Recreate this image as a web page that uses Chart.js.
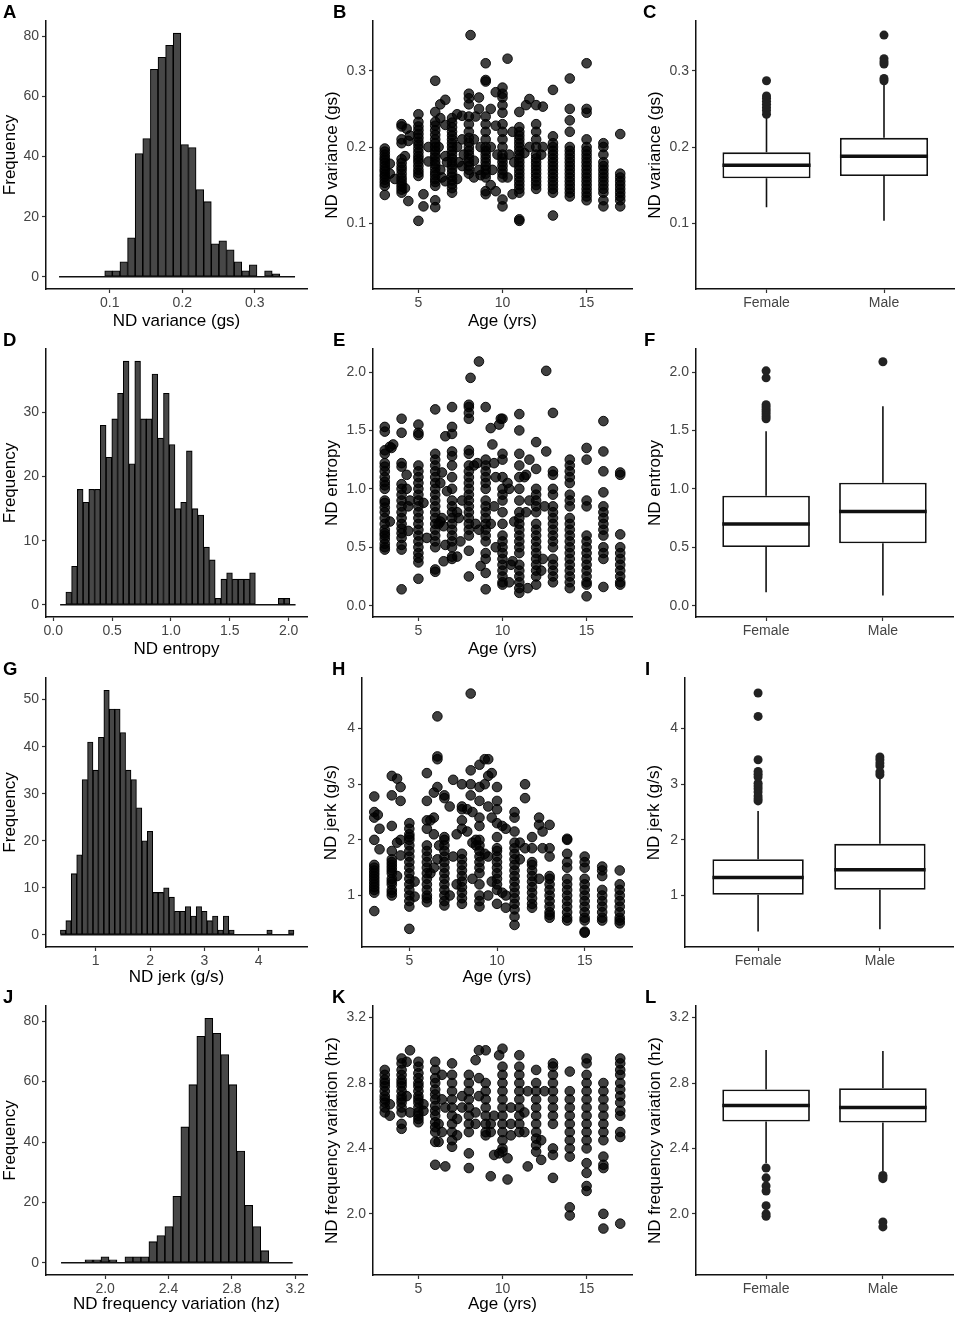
<!DOCTYPE html>
<html>
<head>
<meta charset="utf-8">
<title>ND features by age and sex</title>
<script src="https://cdn.jsdelivr.net/npm/chart.js@4.4.1/dist/chart.umd.min.js"></script>
<style>
  body { margin: 0; background: #fff; }
  #figure { position: relative; width: 959px; height: 1319px; overflow: hidden; }
  #figure canvas { position: absolute; }
  .tag { position: absolute; font: bold 18.5px/18.5px "Liberation Sans", Arial, sans-serif; color: #000; }
</style>
</head>
<body>
<div id="figure"></div>
<script>
// ---------- histogram bins (start edge, width, counts) ----------
const varBinStart = 0.030, varBinWidth = 0.0105;
const varCounts = [0, 0, 0, 0, 0, 0, 2, 2, 5, 13, 41, 46, 69, 73, 77, 81, 44, 43, 29, 25, 11, 12, 9, 5, 2, 4, 0, 2, 1, 0, 0];

const entBinStart = 0.058, entBinWidth = 0.0488;
const entCounts = [0, 2, 6, 18, 16, 18, 18, 28, 23, 29, 33, 38, 22, 38, 29, 29, 36, 26, 33, 25, 15, 16, 24, 15, 14, 9, 7, 1, 4, 5, 4, 4, 4, 5, 0, 0, 0, 0, 1, 1, 0];

const jerkBinStart = 0.35, jerkBinWidth = 0.1;
const jerkCounts = [1, 3, 13, 17, 33, 41, 35, 42, 52, 48, 48, 43, 35, 33, 27, 20, 22, 9, 9, 10, 8, 5, 5, 6, 4, 6, 5, 3, 4, 1, 4, 1, 0, 0, 0, 0, 0, 0, 1, 0, 0, 0, 1];

const freqBinStart = 1.722, freqBinWidth = 0.0504;
const freqCounts = [0, 0, 0, 1, 1, 2, 1, 0, 2, 2, 2, 7, 9, 12, 22, 45, 59, 75, 81, 76, 69, 59, 37, 19, 12, 4, 0, 0, 0];

// ---------- scatter points: [age, values at that age] ----------
const varCols = [
  [3, [.137, .149, .153, .157, .161, .164, .168, .171, .175, .179, .183, .186, .19, .194, .198]],
  [3.3, [.165, .178]], [3.6, [.158]],
  [4, [.14, .144, .148, .152, .156, .16, .165, .17, .174, .179, .184, .205, .21, .227, .23]],
  [4.2, [.188, .146]], [4.3, [.224]], [4.4, [.129, .208]], [4.5, [.215]],
  [5, [.103, .162, .166, .17, .175, .18, .184, .188, .193, .198, .203, .207, .212, .217, .222, .227, .233, .243]],
  [5.3, [.138, .122]], [5.6, [.181, .2]],
  [6, [.121, .13, .149, .154, .158, .163, .167, .172, .177, .181, .186, .19, .195, .2, .205, .21, .216, .222, .228, .233, .246, .287]],
  [6.2, [.2]], [6.3, [.256, .238, .17]], [6.4, [.16]], [6.6, [.262, .229, .188, .155]], [6.7, [.18]],
  [7, [.14, .146, .151, .156, .161, .166, .171, .176, .18, .185, .19, .195, .2, .205, .21, .215, .22, .226, .232, .238]],
  [7.3, [.243, .2, .158]], [7.4, [.18]], [7.6, [.241, .21, .175]], [7.7, [.19]],
  [8, [.165, .17, .175, .18, .185, .19, .195, .2, .206, .212, .22, .23, .24, .256, .264, .27]], [8.1, [.347]],
  [8.3, [.16, .182, .21]], [8.4, [.24]], [8.6, [.265, .25, .17]], [8.7, [.163, .2]],
  [9, [.138, .142, .16, .165, .17, .175, .18, .185, .19, .195, .2, .21, .22, .23, .24, .286, .288, .31]],
  [9.3, [.15, .25, .2]], [9.4, [.17]], [9.6, [.272, .142, .228]], [9.7, [.19]],
  [10, [.122, .131, .16, .165, .17, .175, .18, .185, .19, .2, .21, .22, .23, .245, .255, .265, .27, .278]],
  [10.3, [.316, .16]], [10.4, [.19]], [10.6, [.138, .22]], [10.7, [.18]],
  [11, [.103, .105, .14, .145, .15, .155, .16, .165, .17, .175, .18, .185, .19, .195, .2, .205, .21, .215, .22, .226, .246]],
  [11.3, [.192]], [11.4, [.255]], [11.6, [.263, .2]],
  [12, [.145, .15, .155, .16, .165, .17, .175, .18, .185, .19, .2, .21, .22, .23, .255]],
  [12.3, [.19]], [12.4, [.253, .2]],
  [13, [.11, .14, .145, .15, .155, .16, .165, .17, .175, .18, .185, .19, .195, .2, .205, .214, .275]],
  [14, [.135, .14, .145, .15, .155, .16, .165, .17, .175, .18, .185, .19, .195, .2, .22, .235, .25, .29]],
  [15, [.13, .135, .14, .145, .15, .155, .16, .165, .17, .175, .18, .185, .19, .195, .2, .21, .245, .25, .31]],
  [16, [.122, .13, .14, .145, .15, .155, .16, .165, .17, .175, .18, .19, .2, .205]],
  [17, [.122, .13, .135, .14, .145, .15, .155, .16, .165, .217]]
];

const entCols = [
  [3, [.48, .5, .53, .57, .6, .62, .65, .7, .75, .8, .84, .88, .9, 1.0, 1.03, 1.06, 1.1, 1.15, 1.19, 1.22, 1.3, 1.33, 1.49, 1.53]],
  [3.3, [1.36, .72]], [3.4, [1.35]], [3.5, [1.38]],
  [4, [.14, .48, .52, .58, .62, .66, .7, .75, .8, .85, .9, .95, 1.0, 1.04, 1.19, 1.22, 1.48, 1.6]],
  [4.3, [1.12, 1.0]], [4.4, [.85, .64]], [4.5, [.9]],
  [5, [.23, .37, .41, .45, .5, .55, .6, .65, .7, .75, .8, .85, .9, .95, 1.0, 1.05, 1.1, 1.15, 1.2, 1.46, 1.48, 1.55]],
  [5.3, [.88]], [5.5, [.58]],
  [6, [.29, .31, .5, .55, .6, .65, .7, .75, .8, .85, .9, .95, 1.0, 1.05, 1.1, 1.15, 1.2, 1.25, 1.3, 1.68]],
  [6.2, [.7]], [6.3, [.72, 1.05]], [6.4, [.75, 1.14]], [6.5, [.68, .38]], [6.6, [1.45, .52]], [6.7, [.98]],
  [7, [.4, .42, .5, .55, .6, .65, .7, .75, .8, .85, .9, 1.0, 1.1, 1.2, 1.28, 1.32, 1.47, 1.53, 1.7]],
  [7.3, [.8, .42]], [7.4, [.75]], [7.5, [.55]], [7.6, [.9]],
  [8, [.25, .47, .6, .65, .7, .75, .8, .85, .9, .95, 1.0, 1.05, 1.1, 1.15, 1.2, 1.3, 1.33, 1.6, 1.65, 1.7, 1.72]], [8.1, [1.95]],
  [8.3, [1.2]], [8.4, [.7]], [8.5, [1.22]], [8.6, [.65, 2.09]], [8.7, [.34]],
  [9, [.14, .28, .4, .45, .55, .6, .65, .7, .75, .8, .85, .9, 1.0, 1.05, 1.1, 1.15, 1.2, 1.25, 1.7]],
  [9.3, [1.52, .7]], [9.4, [1.38]], [9.5, [1.22, .85]], [9.6, [1.1, .5]], [9.8, [1.55]], [9.9, [1.6]],
  [10, [.18, .2, .25, .3, .35, .4, .45, .5, .55, .6, .7, .8, .9, .95, 1.0, 1.1, 1.25, 1.3, 1.6]],
  [10.3, [1.05]], [10.4, [1.0, .2]], [10.5, [.35]], [10.6, [.38]], [10.7, [.72]],
  [11, [.11, .15, .2, .25, .3, .35, .45, .5, .55, .6, .65, .7, .75, .8, .9, 1.0, 1.1, 1.2, 1.3, 1.5, 1.64]],
  [11.3, [1.1]], [11.4, [1.12, .8]], [11.5, [.15]], [11.6, [1.25, .9]],
  [12, [.18, .25, .3, .35, .4, .45, .5, .55, .6, .65, .7, .8, .85, .9, .95, 1.0, 1.17, 1.4]],
  [12.3, [.3]], [12.4, [.4]], [12.5, [.85]], [12.6, [1.32, 2.01]],
  [13, [.2, .25, .3, .35, .4, .5, .55, .6, .65, .7, .75, .8, .85, .95, 1.0, 1.12, 1.15, 1.65]],
  [14, [.15, .2, .25, .3, .35, .4, .45, .5, .55, .6, .65, .7, .75, .85, .9, .95, 1.05, 1.1, 1.15, 1.2, 1.25]],
  [15, [.08, .18, .2, .25, .3, .35, .4, .45, .5, .55, .6, .85, .9, 1.25, 1.35]],
  [16, [.16, .4, .45, .5, .6, .65, .7, .75, .8, .85, .97, 1.15, 1.32, 1.58]],
  [17, [.18, .2, .25, .3, .35, .4, .45, .5, .61, 1.12, 1.14]]
];

const jerkCols = [
  [3, [.72, 1.05, 1.1, 1.15, 1.2, 1.25, 1.3, 1.35, 1.4, 1.45, 1.5, 1.55, 2.0, 2.4, 2.5, 2.78]],
  [3.2, [2.45]], [3.3, [2.2, 1.83]],
  [4, [1.0, 1.05, 1.1, 1.2, 1.25, 1.3, 1.4, 1.45, 1.5, 1.55, 1.6, 1.65, 1.8, 2.25, 2.8, 3.15]],
  [4.3, [1.95, 1.35, 3.1]], [4.5, [2.0, 1.72, 2.7, 2.95]],
  [5, [.4, .8, .9, 1.0, 1.1, 1.2, 1.3, 1.4, 1.5, 1.6, 1.7, 1.8, 1.9, 2.0, 2.05, 2.1, 2.2, 2.3]],
  [5.3, [1.25, .98]],
  [6, [.88, .95, 1.0, 1.1, 1.2, 1.3, 1.4, 1.5, 1.6, 1.7, 1.8, 1.9, 2.2, 2.35, 2.7, 3.2]],
  [6.2, [2.35, 1.4]], [6.4, [2.4, 2.1, 1.5, 2.85]], [6.6, [3.45, 3.5, 4.22, 2.95, 1.65]], [6.7, [1.9]],
  [7, [.82, .9, 1.0, 1.1, 1.2, 1.3, 1.4, 1.5, 1.6, 1.7, 1.8, 1.9, 2.0, 2.05, 2.75, 2.8]],
  [7.3, [2.6, 1.0]], [7.5, [3.08, 1.7]], [7.7, [1.2, 2.1]],
  [8, [.85, .95, 1.05, 1.15, 1.25, 1.35, 1.45, 1.55, 1.65, 1.75, 2.2, 2.35, 2.55, 2.6, 3.0]],
  [8.3, [2.55, 2.15]], [8.5, [3.0, 3.25, 2.8, 4.63]], [8.6, [2.5, 1.95, 1.3]], [8.8, [2.0, 1.9]],
  [9, [.8, .9, 1.0, 1.2, 1.4, 1.5, 1.6, 1.7, 1.8, 1.9, 2.0, 2.25, 2.4, 2.7, 2.95, 3.35]],
  [9.3, [3.45, 3.0, 1.75]], [9.5, [3.45, 3.15, 2.6, 1.7, 1.0]], [9.7, [1.25, 2.4, 3.2]],
  [10, [.85, 1.1, 1.2, 1.3, 1.4, 1.5, 1.6, 1.7, 1.8, 1.85, 2.05, 2.3, 2.55, 2.7, 2.95]],
  [10.3, [2.25, 1.05]], [10.5, [2.2, 1.0, .78]],
  [11, [.47, .62, .75, .85, .95, 1.05, 1.15, 1.25, 1.35, 1.45, 1.55, 1.65, 1.75, 1.85, 1.95, 2.15, 2.4, 2.5]],
  [11.3, [1.95, 1.65]], [11.6, [3.0, 2.75, 1.85]],
  [12, [.78, .85, .95, 1.05, 1.15, 1.25, 1.35, 1.45, 1.55, 1.6, 1.85, 2.05]],
  [12.4, [2.4, 2.27, 1.3]], [12.6, [2.15, 1.85]],
  [13, [.6, .65, .7, .8, .9, 1.0, 1.1, 1.2, 1.3, 1.35, 1.7, 1.85, 2.27]],
  [14, [.55, .6, .7, .8, .9, 1.0, 1.1, 1.2, 1.3, 1.5, 1.6, 1.75, 2.0, 2.02]],
  [15, [.33, .35, .55, .6, .7, .8, .9, 1.0, 1.1, 1.2, 1.3, 1.5, 1.6, 1.7]],
  [16, [.55, .6, .7, .8, .9, 1.0, 1.1, 1.35, 1.45, 1.52]],
  [17, [.5, .55, .6, .7, .8, .9, 1.0, 1.1, 1.2, 1.45]]
];

const freqCols = [
  [3, [2.62, 2.65, 2.68, 2.7, 2.72, 2.75, 2.78, 2.8, 2.82, 2.85, 2.88]],
  [3.3, [2.6, 2.67]],
  [4, [2.52, 2.55, 2.62, 2.65, 2.68, 2.7, 2.72, 2.75, 2.78, 2.8, 2.82, 2.85, 2.88, 2.92, 2.95]],
  [4.3, [2.93, 2.72]], [4.5, [3.0, 2.62]],
  [5, [2.56, 2.58, 2.6, 2.62, 2.65, 2.68, 2.7, 2.72, 2.75, 2.78, 2.8, 2.83, 2.86, 2.9, 2.93]],
  [5.3, [2.63, 2.67]],
  [6, [2.3, 2.44, 2.5, 2.53, 2.56, 2.6, 2.63, 2.66, 2.7, 2.73, 2.76, 2.8, 2.83, 2.88, 2.93]],
  [6.2, [2.44, 2.55]], [6.4, [2.7, 2.85, 2.5]], [6.6, [2.29, 2.65]],
  [7, [2.41, 2.45, 2.5, 2.55, 2.6, 2.65, 2.7, 2.75, 2.8, 2.85, 2.92]],
  [7.3, [2.48, 2.58]], [7.6, [2.72, 2.65]],
  [8, [2.28, 2.37, 2.5, 2.55, 2.6, 2.65, 2.7, 2.75, 2.8, 2.85]],
  [8.4, [2.94, 2.55, 2.62]], [8.6, [2.72, 2.83, 3.0]],
  [9, [2.48, 2.5, 2.55, 2.6, 2.65, 2.7, 2.75, 2.8, 3.0]],
  [9.3, [2.23, 2.5, 2.55]], [9.5, [2.36, 2.6]], [9.8, [2.37, 2.97]],
  [10, [2.38, 2.4, 2.45, 2.5, 2.55, 2.6, 2.65, 2.7, 2.75, 2.8, 2.85, 2.9, 3.01]],
  [10.3, [2.21, 2.34]], [10.5, [2.48, 2.55, 2.65]],
  [11, [2.5, 2.55, 2.6, 2.65, 2.7, 2.75, 2.8, 2.85, 2.9, 2.97]],
  [11.3, [2.5, 2.62]], [11.5, [2.29, 2.75]],
  [12, [2.38, 2.42, 2.46, 2.5, 2.55, 2.6, 2.65, 2.7, 2.75, 2.8, 2.88]],
  [12.3, [2.33, 2.45]], [12.5, [2.75]],
  [13, [2.22, 2.36, 2.4, 2.55, 2.6, 2.65, 2.7, 2.75, 2.8, 2.85, 2.9, 2.92]],
  [14, [1.99, 2.04, 2.35, 2.4, 2.45, 2.5, 2.55, 2.6, 2.65, 2.7, 2.75, 2.87]],
  [15, [2.14, 2.17, 2.25, 2.31, 2.4, 2.45, 2.5, 2.55, 2.6, 2.65, 2.7, 2.75, 2.8, 2.85, 2.92, 2.95]],
  [16, [1.91, 2.0, 2.28, 2.3, 2.35, 2.45, 2.5, 2.55, 2.6, 2.65, 2.7, 2.75, 2.8]],
  [17, [1.94, 2.47, 2.5, 2.6, 2.63, 2.68, 2.72, 2.76, 2.8, 2.85, 2.88, 2.92, 2.95]]
];

// ---------- box plots: [lower whisker, q1, median, q3, upper whisker] ----------
const sexLabels = ['Female', 'Male'];
const varFemale = [0.121, 0.159, 0.176, 0.193, 0.240];
const varMale = [0.103, 0.162, 0.188, 0.212, 0.283];
const varFemaleOut = [0.243, 0.248, 0.252, 0.256, 0.260, 0.264, 0.267, 0.287];
const varMaleOut = [0.287, 0.290, 0.309, 0.312, 0.316, 0.347];

const entFemale = [0.114, 0.502, 0.700, 0.941, 1.492];
const entMale = [0.088, 0.534, 0.807, 1.053, 1.706];
const entFemaleOut = [1.60, 1.62, 1.64, 1.66, 1.68, 1.70, 1.72, 1.95, 2.01];
const entMaleOut = [2.088];

const jerkFemale = [0.353, 1.012, 1.323, 1.653, 2.52];
const jerkMale = [0.395, 1.102, 1.461, 1.928, 3.12];
const jerkFemaleOut = [2.70, 2.74, 2.79, 2.86, 2.92, 2.97, 3.02, 3.13, 3.18, 3.23, 3.44, 4.22, 4.64];
const jerkMaleOut = [3.17, 3.22, 3.33, 3.38, 3.44, 3.49];

const freqFemale = [2.31, 2.564, 2.662, 2.760, 3.002];
const freqMale = [2.259, 2.558, 2.650, 2.768, 2.996];
const freqFemaleOut = [2.28, 2.22, 2.17, 2.14, 2.05, 2.0, 1.985];
const freqMaleOut = [2.235, 2.225, 2.215, 1.95, 1.92];

// ---------- ticks ----------
const varTicks = [0.1, 0.2, 0.3], varTickLabels = ['0.1', '0.2', '0.3'];
const entTicks = [0, 0.5, 1, 1.5, 2], entTickLabels = ['0.0', '0.5', '1.0', '1.5', '2.0'];
const jerkTicks = [1, 2, 3, 4], jerkTickLabels = ['1', '2', '3', '4'];
const freqTicks = [2.0, 2.4, 2.8, 3.2], freqTickLabels = ['2.0', '2.4', '2.8', '3.2'];
const ageTicks = [5, 10, 15], ageTickLabels = ['5', '10', '15'];
const count80Ticks = [0, 20, 40, 60, 80], count80Labels = ['0', '20', '40', '60', '80'];
const count30Ticks = [0, 10, 20, 30], count30Labels = ['0', '10', '20', '30'];
const count50Ticks = [0, 10, 20, 30, 40, 50], count50Labels = ['0', '10', '20', '30', '40', '50'];

const panelTags = [
  ['A', 3, 18.3], ['B', 333, 18.3], ['C', 643, 18.3],
  ['D', 3, 347], ['E', 333, 347], ['F', 644, 347],
  ['G', 3, 676], ['H', 332, 676], ['I', 645, 676],
  ['J', 3, 1004], ['K', 332, 1004], ['L', 645, 1004]
];

// ---------- drawing ----------
const FONT = '"Liberation Sans", Arial, sans-serif';
const INK = '#111111';
Chart.defaults.font.family = FONT;

const figure = document.getElementById('figure');

function axisOptions(o, isX) {
  return {
    type: 'linear',
    min: o.min,
    max: o.max,
    offset: false,
    beginAtZero: false,
    afterBuildTicks: (scale) => { scale.ticks = o.ticks.map((v) => ({ value: v })); },
    afterFit: (scale) => { if (isX) scale.height = o.size; else scale.width = o.size; },
    ticks: {
      autoSkip: false, maxRotation: 0, minRotation: 0,
      padding: isX ? 2 : 3,
      color: '#444444',
      font: { family: FONT, size: 14 },
      callback: (value, i) => o.labels[i],
    },
    grid: { display: true, drawOnChartArea: false, drawTicks: true, offset: false, tickLength: 4, tickColor: '#333333', tickWidth: 1.2 },
    border: { display: true, color: INK, width: 1.5 },
    title: {
      display: Boolean(o.title),
      text: o.title || '',
      color: '#000000',
      font: { family: FONT, size: 17 },
      padding: isX ? { top: 0, bottom: o.pad } : { top: o.pad, bottom: 0 },
    },
  };
}

function addPanel(colX, rect, datasets, xo, yo) {
  const [left, top, right, bottom] = rect;
  const canvasTop = top - 12;
  const canvasRight = Math.min(right + 8, 959);
  const width = canvasRight - colX;
  const height = bottom + 50 - canvasTop;
  const canvas = document.createElement('canvas');
  canvas.width = width;
  canvas.height = height;
  canvas.style.left = colX + 'px';
  canvas.style.top = canvasTop + 'px';
  canvas.style.width = width + 'px';
  canvas.style.height = height + 'px';
  figure.appendChild(canvas);
  xo.size = 50;
  yo.size = left - colX;
  new Chart(canvas, {
    type: 'scatter',
    data: { datasets },
    options: {
      responsive: false,
      animation: false,
      events: [],
      layout: { padding: { left: 0, top: 12, right: canvasRight - right, bottom: 0 } },
      plugins: { legend: { display: false }, tooltip: { enabled: false } },
      scales: { x: axisOptions(xo, true), y: axisOptions(yo, false) },
    },
  });
}

function lineSet(points, width, order) {
  return {
    type: 'line', data: points, borderColor: INK, borderWidth: width,
    pointRadius: 0, showLine: true, fill: false, tension: 0, borderCapStyle: 'butt', order,
  };
}

function histSets(start, width, counts) {
  const bars = counts.map((n, i) => ({ x: start + (i + 0.5) * width, y: n }));
  return [
    {
      type: 'bar', data: bars, backgroundColor: '#474747', borderColor: '#000000',
      borderWidth: 1.1, borderSkipped: false, barPercentage: 1, categoryPercentage: 1, order: 1,
    },
    lineSet([{ x: start, y: 0 }, { x: start + counts.length * width, y: 0 }], 1.6, 0),
  ];
}

function scatterSets(cols) {
  const pts = [];
  cols.forEach(([age, vals]) => vals.forEach((v) => pts.push({ x: age, y: v })));
  return [{
    type: 'scatter', data: pts, pointRadius: 4.8,
    pointBackgroundColor: 'rgba(0,0,0,0.75)', pointBorderColor: 'rgba(0,0,0,0.9)', pointBorderWidth: 1,
  }];
}

function boxSets(female, male, femaleOut, maleOut) {
  const stats = [female, male];
  const sets = [{
    type: 'bar',
    data: stats.map((s, i) => ({ x: i + 1, y: [s[1], s[3]] })),
    backgroundColor: '#ffffff', borderColor: INK, borderWidth: 1.8, borderSkipped: false,
    barPercentage: 0.75, categoryPercentage: 1, order: 3,
  }];
  stats.forEach((s, i) => {
    const x = i + 1;
    sets.push(lineSet([{ x, y: s[0] }, { x, y: s[1] }], 1.6, 2));
    sets.push(lineSet([{ x, y: s[3] }, { x, y: s[4] }], 1.6, 2));
    sets.push(lineSet([{ x: x - 0.375, y: s[2] }, { x: x + 0.375, y: s[2] }], 3.5, 1));
  });
  const out = femaleOut.map((v) => ({ x: 1, y: v })).concat(maleOut.map((v) => ({ x: 2, y: v })));
  sets.push({ type: 'scatter', data: out, pointRadius: 4.5, pointBackgroundColor: '#222222', pointBorderWidth: 0, order: 0 });
  return sets;
}

const ageAxis = (pad) => ({ min: 2.3, max: 17.7, ticks: ageTicks, labels: ageTickLabels, title: 'Age (yrs)', pad });
const sexAxis = () => ({ min: 0.4, max: 2.6, ticks: [1, 2], labels: sexLabels });

// row 1: variance
addPanel(0, [46, 21, 307, 289], histSets(varBinStart, varBinWidth, varCounts),
  { min: 0.012, max: 0.372, ticks: varTicks, labels: varTickLabels, title: 'ND variance (gs)', pad: 7 },
  { min: -4.05, max: 85.05, ticks: count80Ticks, labels: count80Labels, title: 'Frequency', pad: 0 });
addPanel(320, [373, 21, 632, 289], scatterSets(varCols), ageAxis(7),
  { min: 0.0135, max: 0.3655, ticks: varTicks, labels: varTickLabels, title: 'ND variance (gs)', pad: 2.3 });
addPanel(640, [696, 21, 955, 289], boxSets(varFemale, varMale, varFemaleOut, varMaleOut), sexAxis(),
  { min: 0.0135, max: 0.3655, ticks: varTicks, labels: varTickLabels, title: 'ND variance (gs)', pad: 5.3 });

// row 2: entropy
addPanel(0, [46, 349, 307, 617], histSets(entBinStart, entBinWidth, entCounts),
  { min: -0.062, max: 2.156, ticks: entTicks, labels: entTickLabels, title: 'ND entropy', pad: 7 },
  { min: -1.9, max: 39.9, ticks: count30Ticks, labels: count30Labels, title: 'Frequency', pad: 0 });
addPanel(320, [373, 349, 632, 617], scatterSets(entCols), ageAxis(7),
  { min: -0.097, max: 2.197, ticks: entTicks, labels: entTickLabels, title: 'ND entropy', pad: 2.3 });
addPanel(640, [696, 349, 953, 617], boxSets(entFemale, entMale, entFemaleOut, entMaleOut), sexAxis(),
  { min: -0.097, max: 2.197, ticks: entTicks, labels: entTickLabels, title: 'ND entropy', pad: 5.3 });

// row 3: jerk
addPanel(0, [46, 678, 307, 947], histSets(jerkBinStart, jerkBinWidth, jerkCounts),
  { min: 0.085, max: 4.89, ticks: jerkTicks, labels: jerkTickLabels, title: 'ND jerk (g/s)', pad: 9 },
  { min: -2.6, max: 54.6, ticks: count50Ticks, labels: count50Labels, title: 'Frequency', pad: 0 });
addPanel(320, [362, 678, 632, 947], scatterSets(jerkCols), ageAxis(9),
  { min: 0.074, max: 4.91, ticks: jerkTicks, labels: jerkTickLabels, title: 'ND jerk (g/s)', pad: 1.5 });
addPanel(640, [685, 678, 953, 947], boxSets(jerkFemale, jerkMale, jerkFemaleOut, jerkMaleOut), sexAxis(),
  { min: 0.074, max: 4.91, ticks: jerkTicks, labels: jerkTickLabels, title: 'ND jerk (g/s)', pad: 3.8 });

// row 4: frequency variation
addPanel(0, [46, 1006, 307, 1275], histSets(freqBinStart, freqBinWidth, freqCounts),
  { min: 1.627, max: 3.274, ticks: freqTicks, labels: freqTickLabels, title: 'ND frequency variation (hz)', pad: 10 },
  { min: -4.05, max: 85.05, ticks: count80Ticks, labels: count80Labels, title: 'Frequency', pad: 0 });
addPanel(320, [373, 1006, 632, 1275], scatterSets(freqCols), ageAxis(10),
  { min: 1.626, max: 3.271, ticks: freqTicks, labels: freqTickLabels, title: 'ND frequency variation (hz)', pad: 2.3 });
addPanel(640, [696, 1006, 953, 1275], boxSets(freqFemale, freqMale, freqFemaleOut, freqMaleOut), sexAxis(),
  { min: 1.626, max: 3.271, ticks: freqTicks, labels: freqTickLabels, title: 'ND frequency variation (hz)', pad: 5.3 });

// panel letters
panelTags.forEach(([text, x, baseline]) => {
  const tag = document.createElement('div');
  tag.className = 'tag';
  tag.textContent = text;
  tag.style.left = x + 'px';
  tag.style.top = (baseline - 15.7) + 'px';
  figure.appendChild(tag);
});
</script>
</body>
</html>
